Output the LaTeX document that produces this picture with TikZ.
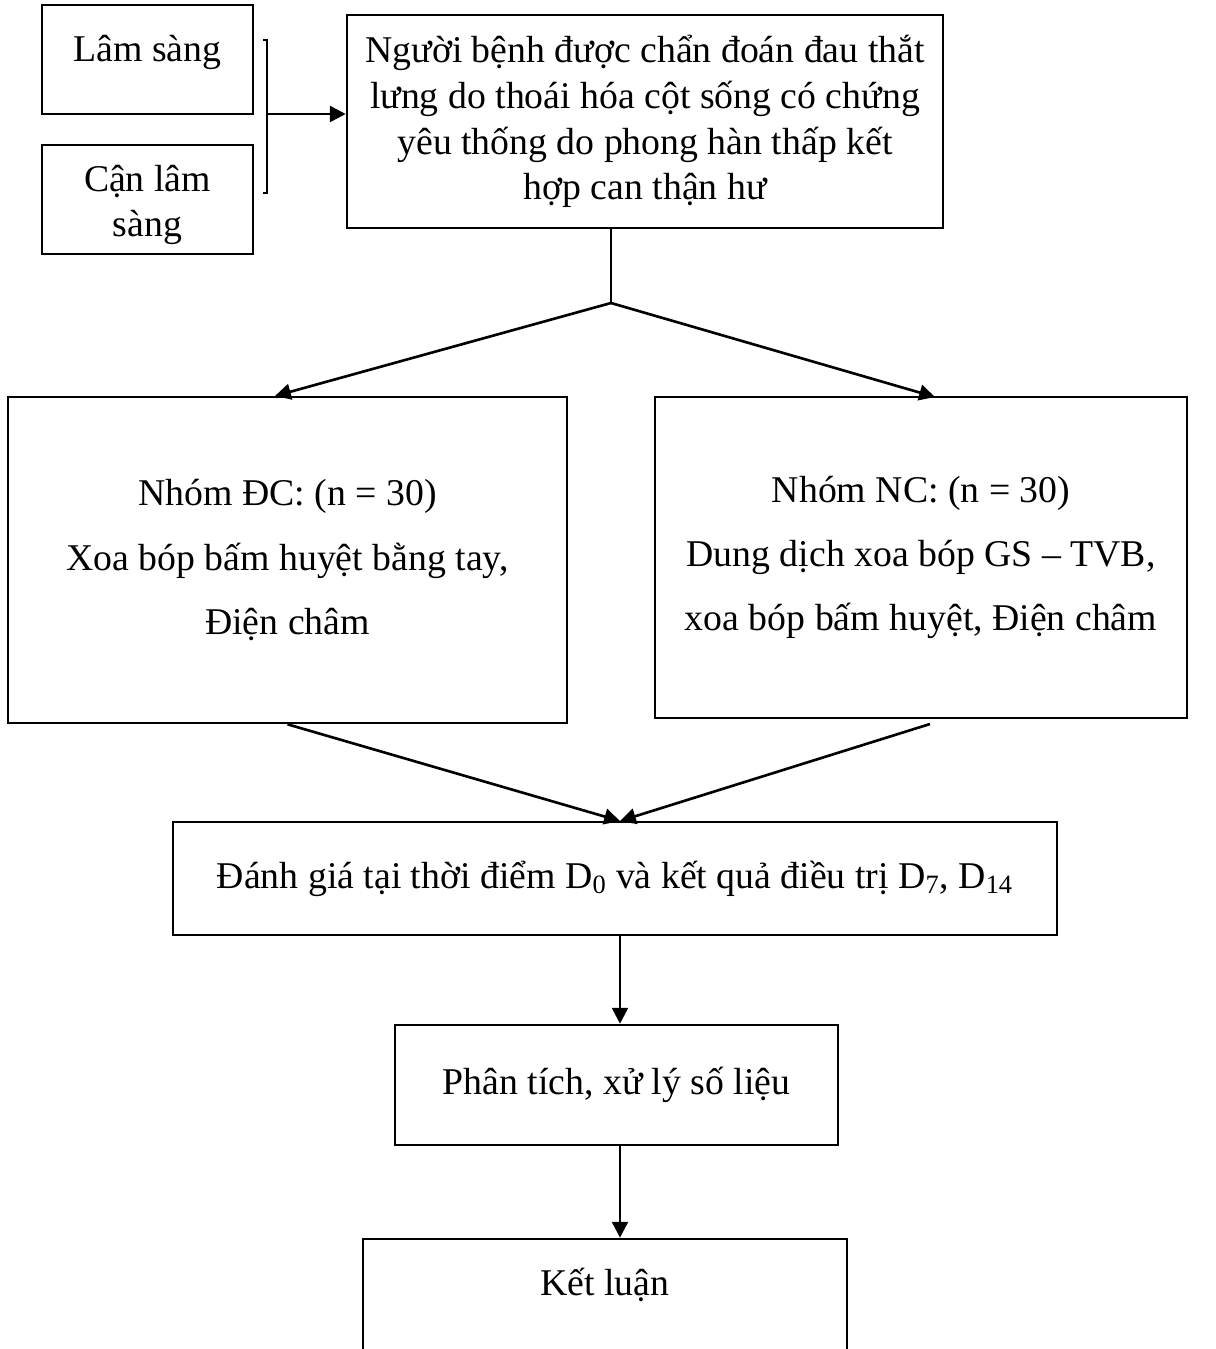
\documentclass[tikz,border=0pt]{standalone}
\usepackage{fontspec}
\setmainfont{Liberation Serif}
\usetikzlibrary{positioning,arrows.meta,calc}
\tikzset{
  >={Triangle[length=9pt,width=9pt]},
  box/.style={draw, line width=1.5pt, inner sep=0pt, align=center,
    font=\fontsize{21.5}{26}\selectfont},
  txt/.style={align=center, inner sep=0pt, font=\fontsize{21.5}{26}\selectfont},
  wide/.style={font=\fontsize{21.5}{36.5}\selectfont},
}

\begin{document}
\begin{tikzpicture}[x=0.02cm,y=-0.02cm,line width=1.5pt]
\useasboundingbox (0,0) rectangle (1215,1349);

\node[box, minimum width=4.22cm, minimum height=2.18cm] (lam) at (147.5,59.5) {};
\node[txt] (lamt) at (147.5,52) {Lâm sàng};
\node[box, minimum width=4.22cm, minimum height=2.18cm] (canlam) at (147.5,199.5) {};
\node[txt] (canlamt) at (147.5,205) {Cận lâm\\sàng};

\node[box, minimum width=11.92cm, minimum height=4.26cm] (nb) at (645,121.5)
  {Người bệnh được chẩn đoán đau thắt\\lưng do thoái hóa cột sống có chứng\\yêu thống do phong hàn thấp kết\\hợp can thận hư};

\node[box, wide, minimum width=11.18cm, minimum height=6.52cm] (dc) at (287.5,560)
  {Nhóm ĐC: (n = 30)\\Xoa bóp bấm huyệt bằng tay,\\Điện châm};
\node[box, wide, minimum width=10.64cm, minimum height=6.42cm] (nc) at (921,557.5)
  {Nhóm NC: (n = 30)\\Dung dịch xoa bóp GS – TVB,\\xoa bóp bấm huyệt, Điện châm};

\node[box, minimum width=17.68cm, minimum height=2.26cm] (dg) at (615,878.5)
  {Đánh giá tại thời điểm D\textsubscript{0} và kết quả điều trị D\textsubscript{7}, D\textsubscript{14}};
\node[box, minimum width=8.86cm, minimum height=2.4cm] (pt) at (616.5,1085)
  {Phân tích, xử lý số liệu};
\node[box, minimum width=9.68cm, minimum height=2.82cm] (kl) at (605,1309.5) {};
\node[txt] (klt) at (605,1285) {Kết luận};

% bracket
\coordinate (br) at (267,114);
\draw[line width=0.6pt] (263,40) -- (267,40) -- (267,193) -- (263,193);
\draw[->] (br) -- (br -| nb.west);

% split
\coordinate (j) at (611,303);
\coordinate (tl) at (275,396);
\coordinate (tr) at (935,397);
\draw (j |- nb.south) -- (j);
\draw[->] (j) -- (tl);
\draw[->] (j) -- (tr);

% merge
\coordinate (m) at (620,821);
\coordinate (ncb) at (930,724);
\draw[->] (dc.south) -- (m);
\draw[->] (ncb) -- (m);
\draw[->] (m |- dg.south) -- (m |- pt.north);
\draw[->] (m |- pt.south) -- (m |- kl.north);
\end{tikzpicture}
\end{document}
